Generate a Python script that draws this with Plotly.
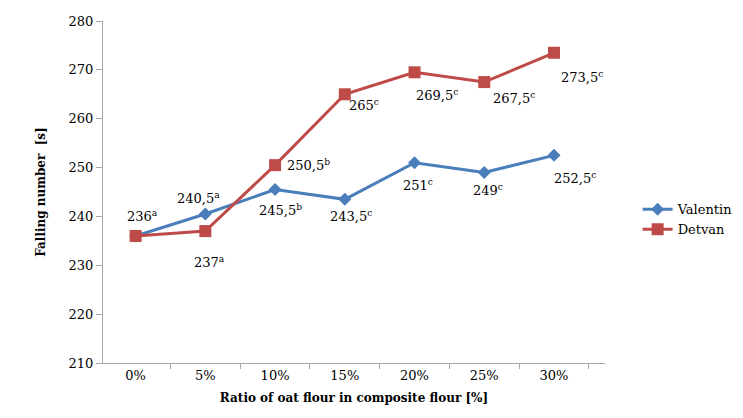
import plotly.graph_objects as go

categories = ['0%', '5%', '10%', '15%', '20%', '25%', '30%']
valentin = [236, 240.5, 245.5, 243.5, 251, 249, 252.5]
detvan = [236, 237, 250.5, 265, 269.5, 267.5, 273.5]
valentin_lbl = ['236<sup>a</sup>', '240,5<sup>a</sup>', '245,5<sup>b</sup>', '243,5<sup>c</sup>',
                '251<sup>c</sup>', '249<sup>c</sup>', '252,5<sup>c</sup>']
detvan_lbl = ['', '237<sup>a</sup>', '250,5<sup>b</sup>', '265<sup>c</sup>',
              '269,5<sup>c</sup>', '267,5<sup>c</sup>', '273,5<sup>c</sup>']

# label offsets in pixels (dx, dy-down)
v_off = [(7, -20), (-7, -16), (5, 20), (6, 17), (3, 22), (4, 18), (21, 23)]
d_off = [(0, 0), (4, 31), (33, 0), (19, 11), (22, 23), (30, 16), (28, 24)]

font = 'DejaVu Serif'
blue = '#4A7EBB'
red = '#BE4B48'

fig = go.Figure()
fig.add_trace(go.Scatter(x=categories, y=valentin, name='Valentin', mode='lines+markers',
                         line=dict(color=blue, width=3),
                         marker=dict(symbol='diamond', size=10, color=blue)))
fig.add_trace(go.Scatter(x=categories, y=detvan, name='Detvan', mode='lines+markers',
                         line=dict(color=red, width=3),
                         marker=dict(symbol='square', size=12, color=red)))

ann = []
for c, v, t, (dx, dy) in zip(categories, valentin, valentin_lbl, v_off):
    ann.append(dict(x=c, y=v, text=t, showarrow=False, xshift=dx, yshift=-dy))
for c, v, t, (dx, dy) in zip(categories, detvan, detvan_lbl, d_off):
    if t:
        ann.append(dict(x=c, y=v, text=t, showarrow=False, xshift=dx, yshift=-dy))

# page body has an 8px margin, so the figure is 8px smaller and margins shifted
fig.update_layout(
    width=735, height=410,
    margin=dict(l=95, r=138, t=13, b=55, autoexpand=False),
    paper_bgcolor='white', plot_bgcolor='white',
    font=dict(family=font, size=13, color='black'),
    annotations=ann,
    showlegend=True,
    legend=dict(x=1.065, y=0.42, xanchor='left', yanchor='middle',
                font=dict(family=font, size=13), bgcolor='rgba(0,0,0,0)',
                itemwidth=30, tracegroupgap=0),
    xaxis=dict(type='category', showline=True, linecolor='#A6A6A6', linewidth=1,
               ticks='outside', tickson='boundaries', ticklen=5, tickcolor='#A6A6A6',
               showgrid=False, zeroline=False, automargin=False,
               title=dict(text='<b>Ratio of oat flour in composite flour [%]</b>',
                          font=dict(family=font, size=12), standoff=12)),
    yaxis=dict(range=[210, 280], dtick=10, showline=True, linecolor='#A6A6A6', linewidth=1,
               ticks='outside', ticklen=6, tickcolor='#A6A6A6', showgrid=False, zeroline=False,
               automargin=False,
               title=dict(text='<b>Falling number  [s]</b>',
                          font=dict(family=font, size=12), standoff=20)),
)

fig.write_html("out.html")
